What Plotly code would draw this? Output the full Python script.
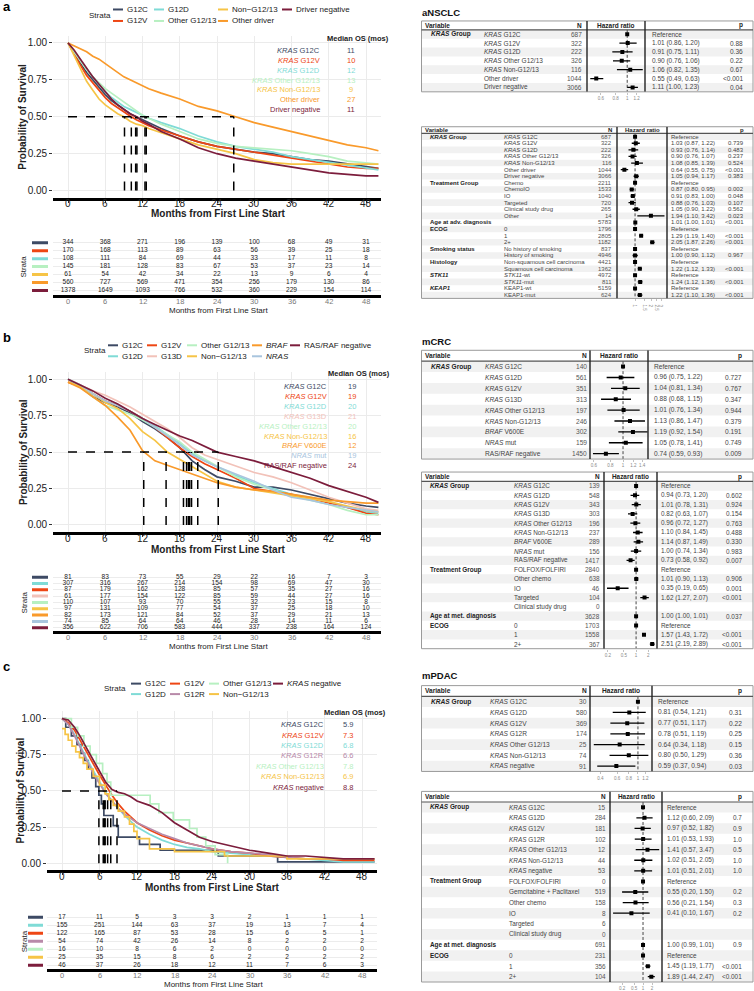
import math
import plotly.graph_objects as go

W, H = 754, 991
FONT = "Liberation Sans, Arial, sans-serif"

# ---------------- colours ----------------
COL_G12C = "#3d4a64"
COL_G12V = "#ee4614"
COL_G12D = "#7fdbd6"
COL_OTHER = "#b7f0c1"
COL_NON = "#f6c446"
COL_ODRV = "#f99a2b"
COL_NEG = "#7c1d3c"
COL_G13D = "#f2c2b9"
COL_NRAS = "#a9c5de"
COL_G12R = "#b88aa9"

MONTH_TICKS = [0, 6, 12, 18, 24, 30, 36, 42, 48]

# ---------------- panel a data (aNSCLC) ----------------
a_time = [0, 1, 2, 3, 4, 5, 6, 7, 8, 9, 10, 11, 12, 13, 15, 18, 21, 24, 27, 30, 33, 36, 39, 42, 45, 48, 50]
a_g12c = [1.00, 0.93, 0.86, 0.80, 0.75, 0.70, 0.65, 0.61, 0.58, 0.55, 0.52, 0.50, 0.48, 0.46, 0.42, 0.37, 0.33, 0.30, 0.28, 0.26, 0.25, 0.23, 0.21, 0.20, 0.18, 0.16, 0.15]
a_g12v = [1.00, 0.92, 0.85, 0.78, 0.73, 0.68, 0.63, 0.59, 0.56, 0.53, 0.505, 0.48, 0.46, 0.44, 0.41, 0.37, 0.33, 0.30, 0.28, 0.26, 0.24, 0.22, 0.20, 0.18, 0.16, 0.15, 0.15]
a_g12d = [1.00, 0.94, 0.88, 0.82, 0.77, 0.72, 0.67, 0.63, 0.60, 0.57, 0.55, 0.53, 0.51, 0.49, 0.46, 0.42, 0.37, 0.33, 0.30, 0.28, 0.26, 0.23, 0.21, 0.19, 0.17, 0.15, 0.14]
a_other = [1.00, 0.94, 0.88, 0.82, 0.77, 0.73, 0.69, 0.66, 0.63, 0.60, 0.57, 0.54, 0.51, 0.49, 0.45, 0.40, 0.35, 0.32, 0.30, 0.29, 0.28, 0.27, 0.25, 0.23, 0.20, 0.19, 0.18]
a_non = [1.00, 0.91, 0.82, 0.74, 0.68, 0.62, 0.58, 0.55, 0.52, 0.50, 0.47, 0.45, 0.44, 0.42, 0.39, 0.35, 0.31, 0.28, 0.25, 0.21, 0.19, 0.18, 0.18, 0.18, 0.18, 0.18, 0.18]
a_odrv = [1.00, 0.98, 0.96, 0.94, 0.91, 0.89, 0.86, 0.83, 0.80, 0.77, 0.75, 0.73, 0.71, 0.69, 0.66, 0.62, 0.57, 0.54, 0.50, 0.46, 0.43, 0.40, 0.37, 0.34, 0.31, 0.29, 0.27]
a_neg = [1.00, 0.95, 0.89, 0.83, 0.77, 0.72, 0.67, 0.62, 0.58, 0.55, 0.52, 0.50, 0.47, 0.45, 0.40, 0.35, 0.29, 0.25, 0.22, 0.20, 0.18, 0.16, 0.14, 0.12, 0.11, 0.10, 0.10]
a_median = [10.9, 10.2, 12.4, 12.6, 9.1, 26.7, 11.1]
a_median_txt = ["11", "10", "12", "13", "9", "27", "11"]
a_median_lab = ["<i>KRAS</i> G12C", "<i>KRAS</i> G12V", "<i>KRAS</i> G12D", "<i>KRAS</i> Other G12/13",
                "<i>KRAS</i> Non-G12/13", "Other driver", "Driver negative"]
a_risk_g12c = [344, 368, 271, 196, 139, 100, 68, 49, 31]
a_risk_g12v = [170, 168, 113, 89, 63, 56, 39, 25, 18]
a_risk_g12d = [108, 111, 84, 69, 44, 33, 17, 11, 8]
a_risk_other = [145, 181, 128, 83, 67, 53, 37, 23, 14]
a_risk_non = [61, 54, 42, 34, 22, 13, 9, 6, 4]
a_risk_odrv = [560, 727, 569, 471, 354, 256, 179, 130, 86]
a_risk_neg = [1378, 1649, 1093, 766, 532, 360, 229, 154, 114]

# ---------------- panel b data (mCRC) ----------------
b_time = [0, 2, 4, 6, 8, 10, 12, 14, 16, 18, 20, 22, 24, 27, 30, 33, 36, 39, 42, 45, 48, 50]
b_g12c = [1.00, 0.95, 0.88, 0.84, 0.81, 0.77, 0.71, 0.66, 0.60, 0.53, 0.44, 0.38, 0.33, 0.30, 0.26, 0.26, 0.24, 0.21, 0.18, 0.15, 0.13, 0.12]
b_g12d = [1.00, 0.96, 0.90, 0.85, 0.82, 0.78, 0.73, 0.68, 0.62, 0.56, 0.49, 0.44, 0.40, 0.34, 0.29, 0.25, 0.21, 0.19, 0.16, 0.12, 0.09, 0.08]
b_g12v = [0.98, 0.95, 0.90, 0.85, 0.82, 0.78, 0.73, 0.67, 0.60, 0.53, 0.47, 0.42, 0.38, 0.32, 0.25, 0.23, 0.21, 0.18, 0.15, 0.12, 0.08, 0.07]
b_g13d = [1.00, 0.96, 0.92, 0.89, 0.85, 0.81, 0.76, 0.71, 0.66, 0.60, 0.53, 0.48, 0.45, 0.40, 0.36, 0.33, 0.29, 0.24, 0.19, 0.15, 0.11, 0.10]
b_other = [1.00, 0.95, 0.88, 0.82, 0.79, 0.76, 0.72, 0.67, 0.62, 0.57, 0.50, 0.45, 0.40, 0.33, 0.28, 0.24, 0.20, 0.17, 0.14, 0.10, 0.07, 0.07]
b_non = [0.98, 0.95, 0.90, 0.84, 0.80, 0.73, 0.64, 0.58, 0.50, 0.45, 0.40, 0.35, 0.30, 0.26, 0.24, 0.22, 0.20, 0.18, 0.16, 0.13, 0.10, 0.09]
b_braf = [0.98, 0.94, 0.88, 0.82, 0.74, 0.65, 0.51, 0.44, 0.41, 0.38, 0.35, 0.32, 0.29, 0.26, 0.24, 0.23, 0.21, 0.19, 0.17, 0.16, 0.15, 0.15]
b_nras = [1.00, 0.96, 0.90, 0.85, 0.82, 0.78, 0.73, 0.67, 0.61, 0.55, 0.48, 0.44, 0.40, 0.35, 0.30, 0.24, 0.19, 0.17, 0.14, 0.12, 0.10, 0.09]
b_neg = [1.00, 0.96, 0.92, 0.87, 0.83, 0.78, 0.73, 0.69, 0.65, 0.61, 0.58, 0.54, 0.50, 0.47, 0.44, 0.40, 0.36, 0.32, 0.27, 0.23, 0.19, 0.155]
b_median = [18.6, 19.1, 19.6, 20.9, 19.9, 15.8, 12.2, 19.4, 24.2]
b_median_txt = ["19", "19", "20", "21", "20", "16", "12", "19", "24"]
b_median_lab = ["<i>KRAS</i> G12C", "<i>KRAS</i> G12V", "<i>KRAS</i> G12D", "<i>KRAS</i> G13D",
                "<i>KRAS</i> Other G12/13", "<i>KRAS</i> Non-G12/13", "<i>BRAF</i> V600E", "<i>NRAS</i> mut",
                "RAS/RAF negative"]
b_risk_g12c = [81, 83, 73, 55, 29, 22, 16, 7, 3]
b_risk_g12d = [307, 316, 267, 214, 154, 98, 69, 47, 30]
b_risk_g12v = [87, 179, 162, 128, 85, 57, 35, 27, 16]
b_risk_g13d = [61, 177, 154, 122, 85, 59, 44, 27, 16]
b_risk_other = [110, 107, 93, 70, 55, 32, 23, 15, 8]
b_risk_non = [97, 131, 109, 77, 54, 37, 25, 18, 10]
b_risk_braf = [82, 173, 121, 84, 52, 37, 29, 21, 13]
b_risk_nras = [74, 85, 64, 64, 46, 28, 14, 11, 6]
b_risk_neg = [356, 622, 706, 583, 444, 337, 238, 164, 124]

# ---------------- panel c data (mPDAC) ----------------
c_time = [0, 1, 2, 3, 4, 5, 6, 7, 8, 9, 10, 11, 12, 14, 16, 18, 20, 22, 24, 27, 30, 33, 36, 39, 42, 45, 48, 50]
c_g12v = [1.00, 0.97, 0.92, 0.84, 0.76, 0.68, 0.61, 0.54, 0.47, 0.41, 0.36, 0.32, 0.28, 0.23, 0.19, 0.16, 0.14, 0.12, 0.10, 0.08, 0.07, 0.05, 0.04, 0.03, 0.03, 0.02, 0.02, 0.02]
c_g12d = [1.00, 0.96, 0.89, 0.80, 0.72, 0.64, 0.56, 0.49, 0.43, 0.38, 0.33, 0.29, 0.25, 0.20, 0.16, 0.13, 0.11, 0.10, 0.08, 0.07, 0.06, 0.05, 0.04, 0.03, 0.02, 0.01, 0.01, 0.01]
c_g12r = [1.00, 0.96, 0.88, 0.79, 0.70, 0.62, 0.55, 0.48, 0.43, 0.38, 0.34, 0.31, 0.28, 0.24, 0.20, 0.17, 0.14, 0.12, 0.10, 0.08, 0.07, 0.06, 0.04, 0.03, 0.03, 0.03, 0.03, 0.03]
c_neg = [1.00, 0.99, 0.94, 0.87, 0.79, 0.71, 0.63, 0.56, 0.51, 0.49, 0.48, 0.46, 0.43, 0.40, 0.35, 0.28, 0.23, 0.18, 0.15, 0.12, 0.09, 0.07, 0.05, 0.05, 0.04, 0.03, 0.03, 0.03]
c_g12c_t = [0, 0.6, 1.5, 2.4, 3.0, 3.6, 4.2, 4.8, 5.4, 5.9, 6.3, 6.7, 8.2, 9.0, 12.4, 15.7, 25.0, 34.5, 50]
c_g12c_s = [1.00, 0.94, 0.88, 0.82, 0.76, 0.71, 0.65, 0.59, 0.53, 0.47, 0.41, 0.33, 0.26, 0.18, 0.13, 0.09, 0.05, 0.01, 0.01]
c_oth_t = [0, 1.5, 2.5, 3.5, 4.5, 5.5, 6.5, 7.2, 7.8, 14.1, 15.5, 17.8, 20.4, 21.6, 23.0, 24.5, 26.5]
c_oth_s = [1.00, 0.94, 0.88, 0.81, 0.75, 0.69, 0.62, 0.56, 0.47, 0.41, 0.35, 0.30, 0.24, 0.18, 0.12, 0.06, 0.00]
c_non_t = [0, 0.5, 1.0, 1.6, 2.2, 2.8, 3.4, 4.0, 5.0, 6.0, 6.9, 7.5, 8.2, 9.0, 10.0, 10.8, 11.5, 12.0, 14.0, 18.0, 26.0, 36.0, 50]
c_non_s = [0.93, 0.89, 0.85, 0.81, 0.77, 0.73, 0.69, 0.65, 0.60, 0.54, 0.48, 0.44, 0.40, 0.36, 0.32, 0.27, 0.22, 0.17, 0.10, 0.08, 0.05, 0.03, 0.03]
c_median = [5.9, 7.3, 6.8, 6.6, 7.8, 6.9, 8.8]
c_median_txt = ["5.9", "7.3", "6.8", "6.6", "7.8", "6.9", "8.8"]
c_median_lab = ["<i>KRAS</i> G12C", "<i>KRAS</i> G12V", "<i>KRAS</i> G12D", "<i>KRAS</i> G12R",
                "<i>KRAS</i> Other G12/13", "<i>KRAS</i> Non-G12/13", "<i>KRAS</i> negative"]
c_risk_g12c = [17, 11, 5, 3, 3, 2, 1, 1, 1]
c_risk_g12d = [155, 251, 144, 63, 37, 19, 13, 7, 4]
c_risk_g12v = [122, 165, 87, 53, 28, 15, 6, 5, 1]
c_risk_g12r = [54, 74, 42, 26, 14, 8, 2, 2, 2]
c_risk_other = [16, 10, 8, 6, 2, 0, 0, 0, 0]
c_risk_non = [25, 35, 15, 8, 6, 2, 2, 2, 2]
c_risk_neg = [46, 37, 26, 18, 12, 11, 7, 6, 3]

# ---------------- forest tables ----------------
KR = "<i>KRAS</i> "
GRP_KRAS = "<b><i>KRAS</i> Group</b>"
# aNSCLC table 1
at1_group = [GRP_KRAS, "", "", "", "", "", ""]
at1_sub = [KR + "G12C", KR + "G12V", KR + "G12D", KR + "Other G12/13", KR + "Non-G12/13", "Other driver", "Driver negative"]
at1_n = [687, 322, 222, 326, 116, 1044, 3066]
at1_hr = [1.0, 1.01, 0.91, 0.90, 1.06, 0.55, 1.11]
at1_lo = [None, 0.86, 0.75, 0.76, 0.82, 0.49, 1.00]
at1_hi = [None, 1.20, 1.11, 1.06, 1.35, 0.63, 1.23]
at1_p = ["", "0.88", "0.36", "0.22", "0.67", "&lt;0.001", "0.04"]
# aNSCLC table 2
at2_group = [GRP_KRAS, "", "", "", "", "", "", "<b>Treatment Group</b>", "", "", "", "", "",
             "<b>Age at adv. diagnosis</b>", "<b>ECOG</b>", "", "", "<b>Smoking status</b>", "",
             "<b>Histology</b>", "", "<b><i>STK11</i></b>", "", "<b><i>KEAP1</i></b>", ""]
at2_sub = [KR + "G12C", KR + "G12V", KR + "G12D", KR + "Other G12/13", KR + "Non-G12/13", "Other driver", "Driver negative",
           "Chemo", "ChemoIO", "IO", "Targeted", "Clinical study drug", "Other",
           "", "0", "1", "2+", "No history of smoking", "History of smoking",
           "Non-squamous cell carcinoma", "Squamous cell carcinoma", "<i>STK11</i>-wt", "<i>STK11</i>-mut",
           "KEAP1-wt", "KEAP1-mut"]
at2_n = [687, 322, 222, 326, 116, 1044, 3066, 2211, 1533, 1040, 720, 265, 14, 5783, 1796, 2805, 1182,
         837, 4946, 4421, 1362, 4972, 811, 5159, 624]
at2_hr = [1.0, 1.03, 0.93, 0.90, 1.08, 0.64, 1.05, 1.0, 0.87, 0.91, 0.88, 1.05, 1.94, 1.01, 1.0, 1.29, 2.05,
          1.0, 1.00, 1.0, 1.22, 1.0, 1.24, 1.0, 1.22]
at2_lo = [None, 0.87, 0.76, 0.76, 0.85, 0.55, 0.94, None, 0.80, 0.83, 0.76, 0.90, 1.10, 1.00, None, 1.19, 1.87,
          None, 0.90, None, 1.12, None, 1.12, None, 1.10]
at2_hi = [None, 1.22, 1.14, 1.07, 1.39, 0.75, 1.17, None, 0.95, 1.00, 1.03, 1.22, 3.42, 1.01, None, 1.40, 2.26,
          None, 1.12, None, 1.33, None, 1.36, None, 1.36]
at2_p = ["", "0.739", "0.483", "0.237", "0.524", "&lt;0.001", "0.383", "", "0.002", "0.048", "0.107", "0.562", "0.023",
         "&lt;0.001", "", "&lt;0.001", "&lt;0.001", "", "0.967", "", "&lt;0.001", "", "&lt;0.001", "", "&lt;0.001"]
# mCRC table 1
bt1_group = [GRP_KRAS, "", "", "", "", "", "", "", ""]
bt1_sub = [KR + "G12C", KR + "G12D", KR + "G12V", KR + "G13D", KR + "Other G12/13", KR + "Non-G12/13",
           "<i>BRAF</i> V600E", "<i>NRAS</i> mut", "RAS/RAF negative"]
bt1_n = [140, 561, 351, 313, 197, 246, 302, 159, 1450]
bt1_hr = [1.0, 0.96, 1.04, 0.88, 1.01, 1.13, 1.19, 1.05, 0.74]
bt1_lo = [None, 0.75, 0.81, 0.68, 0.76, 0.86, 0.92, 0.78, 0.59]
bt1_hi = [None, 1.22, 1.34, 1.15, 1.34, 1.47, 1.54, 1.41, 0.93]
bt1_p = ["", "0.727", "0.767", "0.347", "0.944", "0.379", "0.191", "0.749", "0.009"]
# mCRC table 2
bt2_group = [GRP_KRAS, "", "", "", "", "", "", "", "", "<b>Treatment Group</b>", "", "", "", "",
             "<b>Age at met. diagnosis</b>", "<b>ECOG</b>", "", ""]
bt2_sub = [KR + "G12C", KR + "G12D", KR + "G12V", KR + "G13D", KR + "Other G12/13", KR + "Non-G12/13",
           "<i>BRAF</i> V600E", "<i>NRAS</i> mut", "RAS/RAF negative", "FOLFOX/FOLFIRI", "Other chemo", "IO",
           "Targeted", "Clinical study drug", "", "0", "1", "2+"]
bt2_n = [139, 548, 343, 303, 196, 237, 289, 156, 1417, 2840, 638, 46, 104, 0, 3628, 1703, 1558, 367]
bt2_hr = [1.0, 0.94, 1.01, 0.82, 0.96, 1.10, 1.14, 1.00, 0.73, 1.0, 1.01, 0.35, 1.62, None, 1.00, 1.0, 1.57, 2.51]
bt2_lo = [None, 0.73, 0.78, 0.63, 0.72, 0.84, 0.87, 0.74, 0.58, None, 0.90, 0.19, 1.27, None, 1.00, None, 1.43, 2.19]
bt2_hi = [None, 1.20, 1.31, 1.07, 1.27, 1.45, 1.49, 1.34, 0.92, None, 1.13, 0.65, 2.07, None, 1.01, None, 1.72, 2.89]
bt2_p = ["", "0.602", "0.924", "0.154", "0.763", "0.488", "0.330", "0.983", "0.007", "", "0.906", "0.001",
         "&lt;0.001", "", "0.037", "", "&lt;0.001", "&lt;0.001"]
# mPDAC table 1
ct1_group = [GRP_KRAS, "", "", "", "", "", ""]
ct1_sub = [KR + "G12C", KR + "G12D", KR + "G12V", KR + "G12R", KR + "Other G12/13", KR + "Non-G12/13", KR + "negative"]
ct1_n = [30, 580, 369, 174, 25, 74, 91]
ct1_hr = [1.0, 0.81, 0.77, 0.78, 0.64, 0.80, 0.59]
ct1_lo = [None, 0.54, 0.51, 0.51, 0.34, 0.50, 0.37]
ct1_hi = [None, 1.21, 1.17, 1.19, 1.18, 1.29, 0.94]
ct1_p = ["", "0.31", "0.22", "0.25", "0.15", "0.36", "0.03"]
# mPDAC table 2
ct2_group = [GRP_KRAS, "", "", "", "", "", "", "<b>Treatment Group</b>", "", "", "", "", "",
             "<b>Age at met. diagnosis</b>", "<b>ECOG</b>", "", ""]
ct2_sub = [KR + "G12C", KR + "G12D", KR + "G12V", KR + "G12R", KR + "Other G12/13", KR + "Non-G12/13", KR + "negative",
           "FOLFOX/FOLFIRI", "Gemcitabine + Paclitaxel", "Other chemo", "IO", "Targeted", "Clinical study drug",
           "", "0", "1", "2+"]
ct2_n = [15, 284, 181, 102, 12, 44, 53, 0, 519, 158, 8, 6, 0, 691, 231, 356, 104]
ct2_hr = [1.0, 1.12, 0.97, 1.01, 1.41, 1.02, 1.01, 1.0, 0.55, 0.56, 0.41, None, None, 1.00, 1.0, 1.45, 1.89]
ct2_lo = [None, 0.60, 0.52, 0.53, 0.57, 0.51, 0.51, None, 0.20, 0.21, 0.10, None, None, 0.99, None, 1.19, 1.44]
ct2_hi = [None, 2.09, 1.82, 1.93, 3.47, 2.05, 2.01, None, 1.50, 1.54, 1.67, None, None, 1.01, None, 1.77, 2.47]
ct2_p = ["", "0.7", "0.9", "1.0", "0.5", "1.0", "1.0", "", "0.2", "0.3", "0.2", "", "", "0.9", "", "&lt;0.001", "&lt;0.001"]

# =====================================================================
def fx(x):
    return x / W


def fy(y):
    return 1 - y / H


def xn(k):
    return "xaxis" if k == 1 else "xaxis%d" % k


def yn(k):
    return "yaxis" if k == 1 else "yaxis%d" % k


def xr(k):
    return "x" if k == 1 else "x%d" % k


def yr(k):
    return "y" if k == 1 else "y%d" % k


traces, shapes, annots, layout = [], [], [], {}


def ann(x, y, s, size=7.0, color="#222", xanchor="left", xref="paper", yref="paper", angle=0):
    annots.append(dict(x=x, y=y, xref=xref, yref=yref, text=s, showarrow=False, xanchor=xanchor,
                       yanchor="middle", textangle=angle, borderpad=0,
                       font=dict(size=size, color=color, family=FONT)))


def pann(xpx, ypx, s, **kw):
    ann(fx(xpx), fy(ypx), s, **kw)


def km_panel(k, box, xrange, curves, medians, tick_y):
    L, T, R, B = box
    layout[xn(k)] = dict(domain=[fx(L), fx(R)], range=xrange, anchor=yr(k), tickmode="array",
                         tickvals=MONTH_TICKS, showticklabels=False, ticks="outside", ticklen=2,
                         tickcolor="#333", showline=True, linewidth=3,
                         linecolor="black", showgrid=True, gridcolor="#ebebeb", gridwidth=1,
                         zeroline=False, fixedrange=True)
    layout[yn(k)] = dict(domain=[fy(B), fy(T)], range=[-0.05, 1.05], anchor=xr(k), tickmode="array",
                         tickvals=[0, 0.25, 0.5, 0.75, 1.0],
                         ticktext=["0.00", "0.25", "0.50", "0.75", "1.00"], ticks="outside", ticklen=3,
                         tickcolor="#333", tickfont=dict(size=10, color="#222"), showline=False,
                         showgrid=True, gridcolor="#ebebeb", gridwidth=1, zeroline=False, fixedrange=True)
    for t in MONTH_TICKS:
        ann(t, fy(tick_y), str(t), size=10, color="#222", xanchor="center", xref=xr(k))
    for t, s, col, shp in curves:
        traces.append(go.Scatter(x=t, y=s, mode="lines", line=dict(color=col, width=1.7, shape=shp),
                                 xaxis=xr(k), yaxis=yr(k), hoverinfo="skip", showlegend=False))
    dash = dict(color="black", width=1.5, dash="dash")
    shapes.append(dict(type="line", xref=xr(k), yref=yr(k), x0=0, x1=max(medians), y0=0.5, y1=0.5, line=dash))
    for m in medians:
        shapes.append(dict(type="line", xref=xr(k), yref=yr(k), x0=m, x1=m, y0=0, y1=0.5, line=dash))


def risk_panel(k, L, R, xrange, row0, rowsp, axis_y, rows, colors, bar, tick_y, title_y):
    n = len(rows)
    top = row0 - 0.6 * rowsp
    r1 = (n - 1) + (axis_y - (row0 + (n - 1) * rowsp)) / rowsp
    layout[xn(k)] = dict(domain=[fx(L), fx(R)], range=xrange, anchor=yr(k), tickmode="array",
                         tickvals=MONTH_TICKS, ticks="", showticklabels=False,
                         showline=True, linewidth=3, linecolor="black", showgrid=False,
                         zeroline=False, fixedrange=True)
    layout[yn(k)] = dict(domain=[fy(axis_y), fy(top)], range=[r1, -0.6], anchor=xr(k), tickmode="array",
                         tickvals=list(range(n)), showticklabels=False, ticks="", showgrid=True,
                         gridcolor="#ececec", gridwidth=1, zeroline=False, showline=False, fixedrange=True)
    for t in MONTH_TICKS:
        ann(t, fy(tick_y), str(t), size=7.5, color="#777", xanchor="center", xref=xr(k))
    for i, (vals, col) in enumerate(zip(rows, colors)):
        traces.append(go.Scatter(x=MONTH_TICKS, y=[i] * len(vals), text=[str(v) for v in vals], mode="text",
                                 textposition="middle center",
                                 textfont=dict(size=6.6, color="#222", family=FONT),
                                 xaxis=xr(k), yaxis=yr(k), hoverinfo="skip", showlegend=False))
        shapes.append(dict(type="line", xref="paper", yref=yr(k), x0=fx(bar[0]), x1=fx(bar[1]), y0=i, y1=i,
                           line=dict(color=col, width=3)))
    pann(24, row0 + (n - 1) * rowsp / 2, "Strata", size=8, color="#222", xanchor="center", angle=-90)
    pann((L + R) / 2 + 1, title_y, "Months from First Line Start", size=8, color="#222", xanchor="center")


def legend(strata_x, ys, items):
    pann(strata_x, (ys[0] + ys[1]) / 2, "Strata", size=8, color="#222")
    for lab, col, lx, row in items:
        y = fy(ys[row])
        shapes.append(dict(type="line", xref="paper", yref="paper", x0=fx(lx), x1=fx(lx + 10), y0=y, y1=y,
                           line=dict(color=col, width=2)))
        pann(lx + 13, ys[row], lab, size=8, color="#222")


def median_block(hx, hy, labx, valx, ys, labels, vals, colors):
    pann(hx, hy, "<b>Median OS (mos)</b>", size=7.5, color="#222")
    for y, lab, v, col in zip(ys, labels, vals, colors):
        pann(labx, y, lab, size=7.5, color=col, xanchor="right")
        pann(valx, y, v, size=7.5, color=col, xanchor="center")


def forest(k, top, bottom, cols, hr_range, ticks, group, sub, nn, hr, lo, hi, pv, fs=6.5):
    n = len(sub)
    left, right = 421.5, 753
    grp_x, sub_x, n_x, hr_l, hr_r, est_x, p_x = cols
    layout[xn(k)] = dict(domain=[fx(hr_l), fx(hr_r)], type="log",
                         range=[math.log10(hr_range[0]), math.log10(hr_range[1])], anchor=yr(k),
                         tickmode="array", tickvals=ticks, ticktext=["%g" % t for t in ticks],
                         ticks="outside", ticklen=2, tickwidth=0.6, tickcolor="#999",
                         tickfont=dict(size=4.5, color="#888"), showgrid=False, zeroline=False,
                         showline=False, fixedrange=True)
    layout[yn(k)] = dict(domain=[fy(bottom), fy(top)], range=[n - 0.5, -1.5], anchor=xr(k), visible=False,
                         fixedrange=True)
    for i in range(0, n, 2):
        shapes.append(dict(type="rect", xref="paper", yref=yr(k), x0=fx(left), x1=fx(right), y0=i - 0.5,
                           y1=i + 0.5, fillcolor="#f1f1f1", line=dict(width=0), layer="below"))
    shapes.append(dict(type="rect", xref="paper", yref="paper", x0=fx(left), x1=fx(right), y0=fy(bottom),
                       y1=fy(top), line=dict(color="#9a9a9a", width=1)))
    shapes.append(dict(type="line", xref="paper", yref=yr(k), x0=fx(left), x1=fx(right), y0=-0.5, y1=-0.5,
                       line=dict(color="#555", width=1.2)))
    for vx in (hr_l, hr_r):
        shapes.append(dict(type="line", xref="paper", yref=yr(k), x0=fx(vx), x1=fx(vx), y0=-1.5, y1=n - 0.5,
                           line=dict(color="#222", width=1.4)))
    traces.append(go.Scatter(x=[1, 1], y=[-0.5, n - 0.5], mode="lines",
                             line=dict(color="#333", width=0.9, dash="3px,2px"),
                             xaxis=xr(k), yaxis=yr(k), hoverinfo="skip", showlegend=False))
    px_, py_, ep, em = [], [], [], []
    for i in range(n):
        if hr[i] is None:
            continue
        px_.append(hr[i])
        py_.append(i)
        ep.append(0 if hi[i] is None else hi[i] - hr[i])
        em.append(0 if lo[i] is None else hr[i] - lo[i])
    traces.append(go.Scatter(x=px_, y=py_, mode="markers",
                             marker=dict(symbol="square", size=4, color="black"),
                             error_x=dict(type="data", symmetric=False, array=ep, arrayminus=em, width=0,
                                          thickness=1.3, color="black"),
                             xaxis=xr(k), yaxis=yr(k), hoverinfo="skip", showlegend=False))
    yref = yr(k)
    ann(fx(left + 2.5), -1, "<b>Variable</b>", size=fs, color="#222", yref=yref)
    ann(fx(n_x), -1, "<b>N</b>", size=fs, color="#222", yref=yref, xanchor="right")
    ann(fx((hr_l + hr_r) / 2), -1, "<b>Hazard ratio</b>", size=fs, color="#222", yref=yref, xanchor="center")
    ann(fx(p_x), -1, "<b>p</b>", size=fs, color="#222", yref=yref, xanchor="right")
    for i in range(n):
        if group[i]:
            ann(fx(grp_x), i, group[i], size=fs, color="#222", yref=yref)
        if sub[i]:
            ann(fx(sub_x), i, sub[i], size=fs, color="#444", yref=yref)
        ann(fx(n_x), i, str(nn[i]), size=fs, color="#555", yref=yref, xanchor="right")
        if hr[i] is None:
            est = ""
        elif lo[i] is None:
            est = "Reference"
        else:
            est = "%.2f (%.2f, %.2f)" % (hr[i], lo[i], hi[i])
        if est:
            ann(fx(est_x), i, est, size=fs, color="#444", yref=yref)
        if pv[i]:
            ann(fx(p_x), i, pv[i], size=fs, color="#444", yref=yref, xanchor="right")


# ============================ PANEL A ============================
pann(2, 7, "<b>a</b>", size=13, color="#000")
km_panel(1, (53.1, 35.6, 380.9, 198.4), [-2.4, 50.4], [
    (a_time, a_g12c, COL_G12C, "linear"),
    (a_time, a_g12v, COL_G12V, "linear"),
    (a_time, a_g12d, COL_G12D, "linear"),
    (a_time, a_other, COL_OTHER, "linear"),
    (a_time, a_non, COL_NON, "linear"),
    (a_time, a_odrv, COL_ODRV, "linear"),
    (a_time, a_neg, COL_NEG, "linear"),
], a_median, 204)
pann(23, 117, "<b>Probability of Survival</b>", size=10, color="#222", xanchor="center", angle=-90)
pann(218, 214, "<b>Months from First Line Start</b>", size=10, color="#222", xanchor="center")
legend(88, [9.5, 21], [
    ("G12C", COL_G12C, 113, 0), ("G12V", COL_G12V, 113, 1),
    ("G12D", COL_G12D, 154, 0), ("Other G12/13", COL_OTHER, 154, 1),
    ("Non\u2212G12/13", COL_NON, 218, 0), ("Other driver", COL_ODRV, 218, 1),
    ("Driver negative", COL_NEG, 282, 0)])
a_cols = [COL_G12C, COL_G12V, COL_G12D, COL_OTHER, COL_NON, COL_ODRV, COL_NEG]
median_block(326, 39, 321, 351, [51, 61, 71, 80.5, 90, 100, 110], a_median_lab, a_median_txt, a_cols)
risk_panel(2, 53.1, 380.9, [-2.4, 50.4], 243.3, 7.95, 296,
           [a_risk_g12c, a_risk_g12v, a_risk_g12d, a_risk_other, a_risk_non, a_risk_odrv, a_risk_neg],
           a_cols, (32, 48), 302.5, 311.5)

pann(421, 13, "<b>aNSCLC</b>", size=9.5, color="#111")
forest(3, 21, 92, (430, 483, 583, 587, 645, 651, 744), (0.46, 1.41), [0.6, 0.8, 1, 1.2],
       at1_group, at1_sub, at1_n, at1_hr, at1_lo, at1_hi, at1_p, fs=6.5)
forest(4, 127, 299, (429, 503, 613, 617, 667, 670, 745), (0.47, 3.8), [1, 1.5, 2, 2.5, 3],
       at2_group, at2_sub, at2_n, at2_hr, at2_lo, at2_hi, at2_p, fs=6.0)

# ============================ PANEL B ============================
pann(2, 338, "<b>b</b>", size=13, color="#000")
km_panel(5, (53.1, 372.7, 380.9, 533.3), [-2.4, 50.4], [
    (b_time, b_g12c, COL_G12C, "linear"),
    (b_time, b_g12d, COL_G12D, "linear"),
    (b_time, b_g12v, COL_G12V, "linear"),
    (b_time, b_g13d, COL_G13D, "linear"),
    (b_time, b_other, COL_OTHER, "linear"),
    (b_time, b_non, COL_NON, "linear"),
    (b_time, b_braf, COL_ODRV, "linear"),
    (b_time, b_nras, COL_NRAS, "linear"),
    (b_time, b_neg, COL_NEG, "linear"),
], b_median, 540)
pann(23, 453, "<b>Probability of Survival</b>", size=10, color="#222", xanchor="center", angle=-90)
pann(218, 550.5, "<b>Months from First Line Start</b>", size=10, color="#222", xanchor="center")
legend(83, [346, 357], [
    ("G12C", COL_G12C, 108, 0), ("G12D", COL_G12D, 108, 1),
    ("G12V", COL_G12V, 147, 0), ("G13D", COL_G13D, 147, 1),
    ("Other G12/13", COL_OTHER, 187, 0), ("Non\u2212G12/13", COL_NON, 187, 1),
    ("<i>BRAF</i>", COL_ODRV, 252, 0), ("<i>NRAS</i>", COL_NRAS, 252, 1),
    ("RAS/RAF negative", COL_NEG, 290, 0)])
b_med_cols = [COL_G12C, COL_G12V, COL_G12D, COL_G13D, COL_OTHER, COL_NON, COL_ODRV, COL_NRAS, COL_NEG]
median_block(327, 374, 328, 352, [387, 397, 407, 417, 427, 437, 446.5, 456, 466], b_median_lab, b_median_txt,
             b_med_cols)
risk_panel(6, 53.1, 380.9, [-2.4, 50.4], 578.3, 6.34, 632,
           [b_risk_g12c, b_risk_g12d, b_risk_g12v, b_risk_g13d, b_risk_other, b_risk_non, b_risk_braf,
            b_risk_nras, b_risk_neg],
           [COL_G12C, COL_G12D, COL_G12V, COL_G13D, COL_OTHER, COL_NON, COL_ODRV, COL_NRAS, COL_NEG],
           (32, 48), 639, 648)

pann(421, 342, "<b>mCRC</b>", size=9.5, color="#111")
forest(7, 351, 460, (430, 484, 588, 590, 648, 653, 743), (0.56, 1.55), [0.6, 0.8, 1, 1.2, 1.4],
       bt1_group, bt1_sub, bt1_n, bt1_hr, bt1_lo, bt1_hi, bt1_p, fs=6.6)
forest(8, 473, 650, (429, 513, 601, 604, 657, 660, 743), (0.16, 3.3), [0.2, 0.5, 1, 2],
       bt2_group, bt2_sub, bt2_n, bt2_hr, bt2_lo, bt2_hi, bt2_p, fs=6.4)

# ============================ PANEL C ============================
pann(2, 668, "<b>c</b>", size=13, color="#000")
km_panel(9, (47.0, 712.75, 377.0, 872.25), [-2.4, 50.4], [
    (c_g12c_t, c_g12c_s, COL_G12C, "hv"),
    (c_time, c_g12d, COL_G12D, "linear"),
    (c_time, c_g12v, COL_G12V, "linear"),
    (c_time, c_g12r, COL_G12R, "linear"),
    (c_oth_t, c_oth_s, COL_OTHER, "hv"),
    (c_non_t, c_non_s, COL_NON, "hv"),
    (c_time, c_neg, COL_NEG, "linear"),
], c_median, 878)
pann(20, 792, "<b>Probability of Survival</b>", size=10, color="#222", xanchor="center", angle=-90)
pann(212, 889, "<b>Months from First Line Start</b>", size=10, color="#222", xanchor="center")
legend(103, [685, 695.5], [
    ("G12C", COL_G12C, 131, 0), ("G12D", COL_G12D, 131, 1),
    ("G12V", COL_G12V, 170, 0), ("G12R", COL_G12R, 170, 1),
    ("Other G12/13", COL_OTHER, 209, 0), ("Non\u2212G12/13", COL_NON, 209, 1),
    ("<i>KRAS</i> negative", COL_NEG, 273, 0)])
c_med_cols = [COL_G12C, COL_G12V, COL_G12D, COL_G12R, COL_OTHER, COL_NON, COL_NEG]
median_block(323, 714, 325, 348, [726, 736.5, 747, 757.5, 768, 778.5, 789], c_median_lab, c_median_txt,
             c_med_cols)
risk_panel(10, 47.0, 377.0, [-2.4, 50.4], 919, 8.05, 971,
           [c_risk_g12c, c_risk_g12d, c_risk_g12v, c_risk_g12r, c_risk_other, c_risk_non, c_risk_neg],
           [COL_G12C, COL_G12D, COL_G12V, COL_G12R, COL_OTHER, COL_NON, COL_NEG],
           (28, 43), 977, 986.5)

pann(421, 677, "<b>mPDAC</b>", size=9.5, color="#111")
forest(11, 687, 773, (430, 489, 588, 590, 652, 657, 743), (0.31, 1.41), [0.4, 0.6, 0.8, 1, 1.2],
       ct1_group, ct1_sub, ct1_n, ct1_hr, ct1_lo, ct1_hi, ct1_p, fs=6.6)
forest(12, 793, 984, (429, 508, 607, 610, 662, 666, 743), (0.079, 4.3), [0.2, 0.5, 1, 2],
       ct2_group, ct2_sub, ct2_n, ct2_hr, ct2_lo, ct2_hi, ct2_p, fs=6.4)

fig = go.Figure(data=traces)
fig.update_layout(width=W, height=H, margin=dict(l=0, r=0, t=0, b=0), paper_bgcolor="white",
                  plot_bgcolor="rgba(0,0,0,0)", showlegend=False, font=dict(family=FONT, color="#222"),
                  shapes=shapes, annotations=annots, **layout)
fig.write_html("out.html", config={"displayModeBar": False, "staticPlot": True},
               post_script="document.body.style.margin='0';document.body.style.padding='0';"
                           "document.documentElement.style.overflow='hidden';")
